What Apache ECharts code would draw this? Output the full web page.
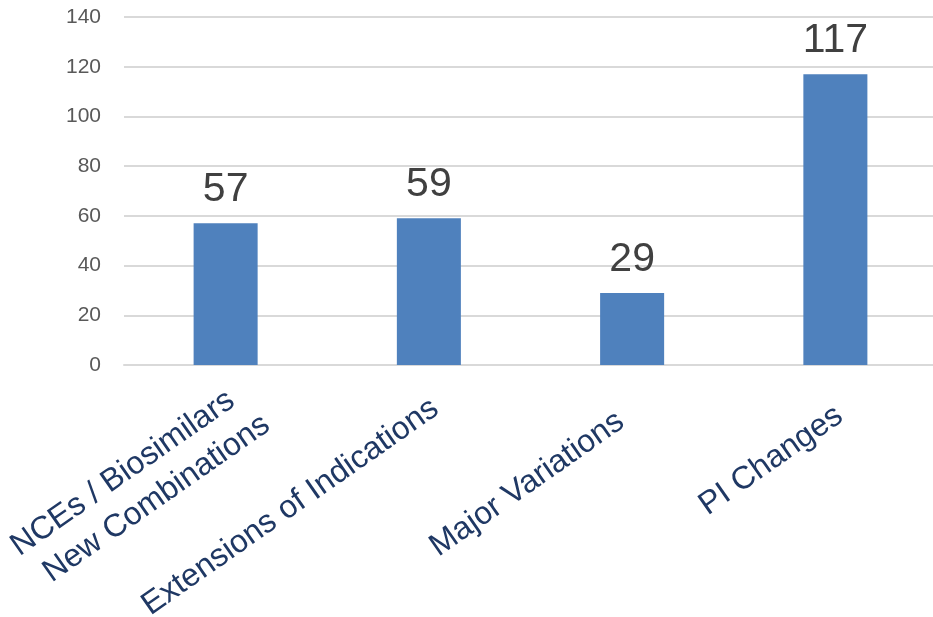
<!DOCTYPE html>
<html>
<head>
<meta charset="utf-8">
<script src="https://cdn.jsdelivr.net/npm/echarts@6/dist/echarts.min.js"></script>
<style>
  html, body { margin: 0; padding: 0; background: #fff; }
  #chart { width: 933px; height: 617px; }
</style>
</head>
<body>
<div id="chart"></div>
<script>
// categories and values
const categories = [
  'NCEs / Biosimilars\nNew Combinations',
  'Extensions of Indications',
  'Major Variations',
  'PI Changes'
]
const values = [57, 59, 29, 117]

// y axis scale
const yMin = 0
const yMax = 140
const yStep = 20

const FONT = '"Liberation Sans", Arial, sans-serif'

// per label nudge (top, right padding) so rotated labels sit like in the original
const labelNudge = [
  [103, 0],
  [77, 19],
  [78, 41],
  [86, 25],
]

const chart = echarts.init(document.getElementById('chart'))

chart.setOption({
  animation: false,
  grid: {
    left: 124,
    right: -4,
    top: 17,
    bottom: 252,
    containLabel: false,
    outerBoundsMode: 'none',
  },
  xAxis: {
    type: 'category',
    data: categories.map((c, i) => ({
      value: c,
      textStyle: { padding: [labelNudge[i][0], labelNudge[i][1], 0, 0] },
    })),
    axisTick: { show: false },
    axisLine: { show: true, lineStyle: { color: '#D9D9D9', width: 2 } },
    axisLabel: {
      interval: 0,
      rotate: 35,
      margin: -2,
      color: '#1F3864',
      fontFamily: FONT,
      fontSize: 32,
      lineHeight: 40,
      hideOverlap: false,
      formatter: function (value) {
        const lines = value.split('\n')
        if (lines.length === 1) return '{b|' + value + '}'
        return lines
          .map((l, i) => (i < lines.length - 1 ? '{a|' + l + '}' : '{b|' + l + '}'))
          .join('\n')
      },
      rich: {
        a: {
          color: '#1F3864',
          fontFamily: FONT,
          fontSize: 32,
          lineHeight: 40,
          padding: [0, 15, 0, 0],
        },
        b: {
          color: '#1F3864',
          fontFamily: FONT,
          fontSize: 32,
          lineHeight: 40,
        },
      },
    },
  },
  yAxis: {
    type: 'value',
    min: yMin,
    max: yMax,
    interval: yStep,
    axisLine: { show: false },
    axisTick: { show: false },
    axisLabel: {
      margin: 23,
      color: '#595959',
      fontFamily: FONT,
      fontSize: 21,
    },
    splitLine: { lineStyle: { color: '#D9D9D9', width: 2 } },
  },
  series: [
    {
      type: 'bar',
      data: values,
      barWidth: '31.5%',
      itemStyle: { color: '#4F81BD' },
      label: {
        show: true,
        position: 'top',
        distance: 13,
        color: '#404040',
        fontFamily: FONT,
        fontSize: 41,
      },
    },
  ],
})
</script>
</body>
</html>
